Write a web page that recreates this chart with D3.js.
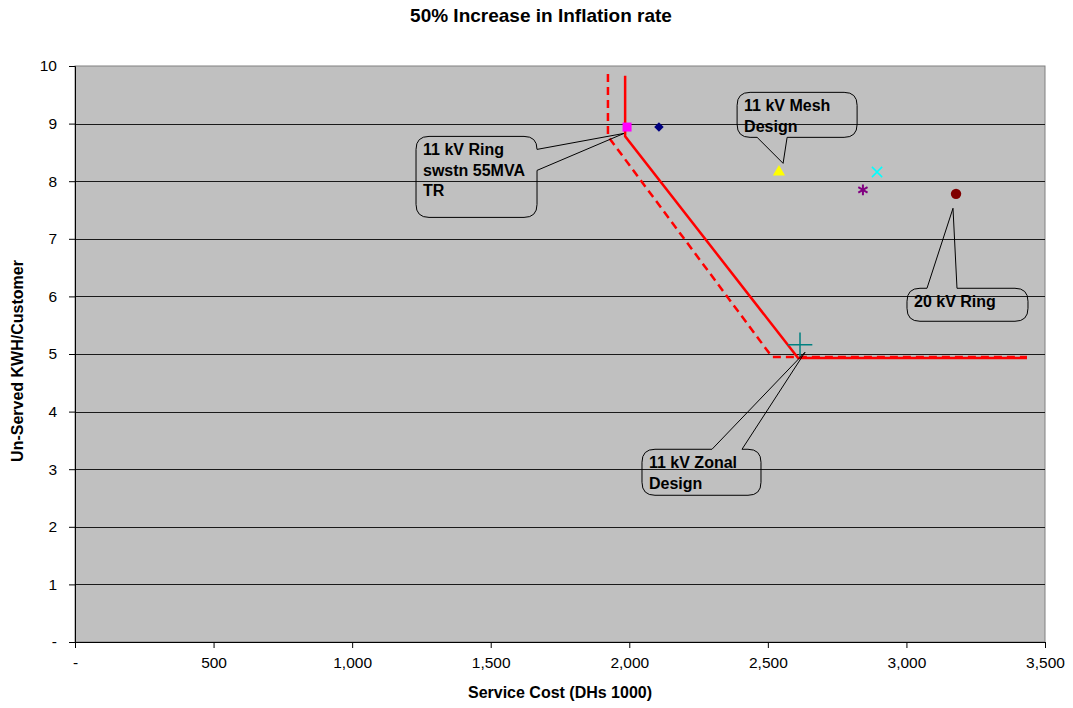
<!DOCTYPE html>
<html>
<head>
<meta charset="utf-8">
<script src="https://cdn.jsdelivr.net/npm/d3@7"></script>
<style>
  body { margin: 0; background: #fff; }
  svg { font-family: "Liberation Sans", Arial, sans-serif; }
</style>
</head>
<body>
<svg width="1073" height="708"></svg>
<script>
// design options (one point each)
var designs = ["11 kV Ring swstn 55MVA TR", "11 kV Ring", "11 kV Mesh Design",
               "20 kV Mesh", "20 kV Mesh swstn", "20 kV Ring", "11 kV Zonal Design"];
var costs    = [1992, 2107, 2540, 2894, 2843, 3179, 2616];
var unserved = [8.94, 8.94, 8.16, 8.16, 7.85, 7.78, 5.16];

// frontier lines
var solidCost = [1985, 1985, 2609, 3435];
var solidKwh  = [9.83, 8.78, 4.93, 4.93];
var dashCost  = [1923, 1923, 2515, 3435];
var dashKwh   = [9.86, 8.78, 4.95, 4.95];

var xTicks = [0, 500, 1000, 1500, 2000, 2500, 3000, 3500];
var yTicks = [0, 1, 2, 3, 4, 5, 6, 7, 8, 9, 10];

// callout labels: tip in data units, box offset from tip in pixels
var callouts = [
  {lines: ["11 kV Ring", "swstn 55MVA", "TR"], x: 1981, y: 8.83,
   box: [-208, 3, 121, 81], side: "right", base: [16, 37]},
  {lines: ["11 kV Mesh", "Design"], x: 2555, y: 8.31,
   box: [-46, -71, 120, 45], side: "bottom", base: [-26, 4]},
  {lines: ["20 kV Ring"], x: 3168, y: 7.53,
   box: [-46, 80, 121, 33], side: "top", base: [-26, 4]},
  {lines: ["11 kV Zonal", "Design"], x: 2634, y: 5.03,
   box: [-163, 97, 119, 46], side: "top", base: [-93, -63]}
];

var svg = d3.select("svg"),
    margin = {left: 75, top: 66, right: 28, bottom: 66},
    width = +svg.attr("width") - margin.left - margin.right,
    height = +svg.attr("height") - margin.top - margin.bottom;

var x = d3.scaleLinear().domain([0, 3500]).range([0, width]);
var y = d3.scaleLinear().domain([0, 10]).range([height, 0]);

var g = svg.append("g").attr("transform", "translate(" + margin.left + "," + margin.top + ")");

// plot background
g.append("rect")
    .attr("width", width).attr("height", height)
    .style("fill", "#c0c0c0")
    .style("stroke", "#808080").style("stroke-width", 1);

// grid lines
g.append("g").selectAll("line")
    .data(yTicks.slice(1, -1))
    .enter().append("line")
      .attr("x1", 0).attr("x2", width)
      .attr("y1", function(d) { return Math.round(y(d)) + 0.5; })
      .attr("y2", function(d) { return Math.round(y(d)) + 0.5; })
      .style("stroke", "#1a1a1a").style("stroke-width", 1);

var fmt = function(d) { return d === 0 ? "-" : d3.format(",")(d); };

var xAxis = g.append("g")
    .attr("transform", "translate(0," + height + ")")
    .call(d3.axisBottom(x).tickValues(xTicks).tickFormat(fmt).tickSize(6).tickPadding(9));
var yAxis = g.append("g")
    .call(d3.axisLeft(y).tickValues(yTicks).tickFormat(fmt).tickSize(6).tickPadding(12));

[xAxis, yAxis].forEach(function(a) {
  a.select(".domain").style("stroke", "#000");
  a.selectAll(".tick line").style("stroke", "#000");
  a.selectAll("text")
    .style("font-family", "Liberation Sans, Arial, sans-serif")
    .style("font-size", "15.5px").style("fill", "#000");
});

// frontier lines
var line = d3.line()
    .x(function(d) { return x(d[0]); })
    .y(function(d) { return y(d[1]); });

g.append("path")
    .datum(d3.zip(dashCost, dashKwh))
    .attr("d", line)
    .style("fill", "none").style("stroke", "#ff0000")
    .style("stroke-width", 2.5).style("stroke-dasharray", "8,5");

g.append("path")
    .datum(d3.zip(solidCost, solidKwh))
    .attr("d", line)
    .style("fill", "none").style("stroke", "#ff0000")
    .style("stroke-width", 2.5);

// markers
var markers = [
  {type: d3.symbolSquare,   size: 81,  fill: "#ff00ff"},
  {type: d3.symbolSquare,   size: 45,  fill: "#000080", rotate: 45},
  {type: d3.symbolTriangle, size: 65,  fill: "#ffff00"},
  {type: d3.symbolX,        size: 70,  stroke: "#00ffff"},
  {type: d3.symbolAsterisk, size: 80,  stroke: "#800080", width: 2},
  {type: d3.symbolCircle,   size: 85,  fill: "#800000"},
  {type: d3.symbolPlus,     size: 200, stroke: "#008080"}
];

g.append("g").selectAll("path")
    .data(designs)
    .enter().append("path")
      .attr("transform", function(d, i) {
        return "translate(" + x(costs[i]) + "," + y(unserved[i]) + ") rotate(" + (markers[i].rotate || 0) + ")";
      })
      .attr("d", function(d, i) { return d3.symbol().type(markers[i].type).size(markers[i].size)(); })
      .style("fill", function(d, i) { return markers[i].fill || "none"; })
      .style("stroke", function(d, i) { return markers[i].stroke || "none"; })
      .style("stroke-width", function(d, i) { return markers[i].width || 1.5; });

// callout shape: rounded box with a wedge pointing at the tip
function calloutPath(c) {
  var tx = x(c.x), ty = y(c.y);
  var x0 = tx + c.box[0], y0 = ty + c.box[1],
      x1 = x0 + c.box[2], y1 = y0 + c.box[3], r = 13;
  var p = d3.path();
  p.moveTo(x0 + r, y0);
  if (c.side === "top") {
    p.lineTo(tx + c.base[0], y0); p.lineTo(tx, ty); p.lineTo(tx + c.base[1], y0);
  }
  p.lineTo(x1 - r, y0);
  p.quadraticCurveTo(x1, y0, x1, y0 + r);
  if (c.side === "right") {
    p.lineTo(x1, ty + c.base[0]); p.lineTo(tx, ty); p.lineTo(x1, ty + c.base[1]);
  }
  p.lineTo(x1, y1 - r);
  p.quadraticCurveTo(x1, y1, x1 - r, y1);
  if (c.side === "bottom") {
    p.lineTo(tx + c.base[1], y1); p.lineTo(tx, ty); p.lineTo(tx + c.base[0], y1);
  }
  p.lineTo(x0 + r, y1);
  p.quadraticCurveTo(x0, y1, x0, y1 - r);
  p.lineTo(x0, y0 + r);
  p.quadraticCurveTo(x0, y0, x0 + r, y0);
  p.closePath();
  return p.toString();
}

var co = g.append("g").selectAll("g")
    .data(callouts)
    .enter().append("g");

co.append("path")
    .attr("d", calloutPath)
    .style("fill", "none").style("stroke", "#000").style("stroke-width", 1);

co.each(function(c) {
  var bx = x(c.x) + c.box[0], by = y(c.y) + c.box[1];
  d3.select(this).selectAll("text")
    .data(c.lines)
    .enter().append("text")
      .attr("x", bx + 7)
      .attr("y", function(d, i) { return by + 19 + i * 20.5; })
      .style("font-size", "16px").style("font-weight", "bold").style("fill", "#000")
      .text(function(d) { return d; });
});

// titles
svg.append("text")
    .attr("x", 541).attr("y", 22)
    .style("text-anchor", "middle").style("font-size", "19px").style("font-weight", "bold")
    .text("50% Increase in Inflation rate");

svg.append("text")
    .attr("x", margin.left + width / 2).attr("y", 698)
    .style("text-anchor", "middle").style("font-size", "16px").style("font-weight", "bold")
    .text("Service Cost (DHs 1000)");

svg.append("text")
    .attr("transform", "translate(23," + (margin.top + height / 2 + 7) + ") rotate(-90)")
    .style("text-anchor", "middle").style("font-size", "16px").style("font-weight", "bold")
    .text("Un-Served KWH/Customer");
</script>
</body>
</html>
